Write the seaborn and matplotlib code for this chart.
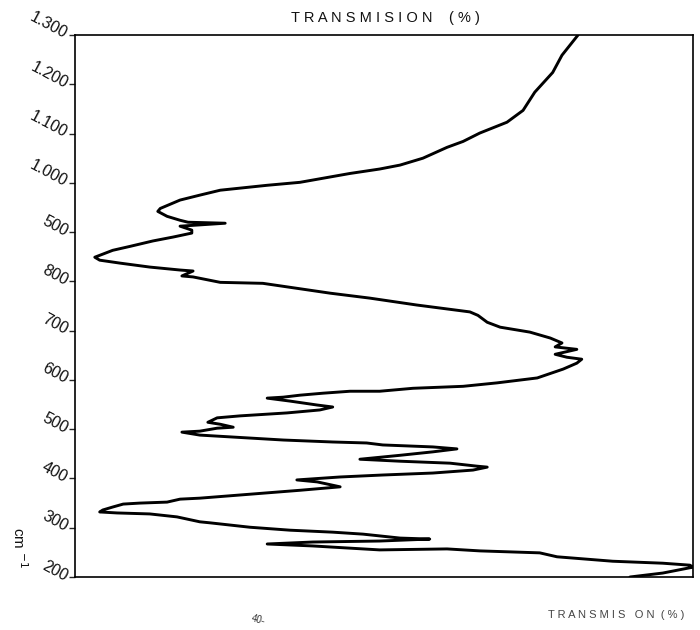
import matplotlib
matplotlib.use("Agg")
import matplotlib.pyplot as plt
import seaborn as sns
import pandas as pd

# Infrared transmission trace, read in pen order from 1300 down to 200 cm-1
transmission = [
    81.4, 78.8, 77.3, 74.4, 72.5, 69.9, 65.5, 62.8, 60.2, 56.3, 52.6, 49.3,
    44.5, 36.4, 31.1, 23.5, 20.2, 17.0, 13.8, 13.4, 14.9, 17.0, 18.3, 24.3,
    17.0, 18.9, 18.9, 15.9, 12.6, 8.9, 6.1, 4.0, 3.2, 4.0, 7.3, 12.1, 17.0,
    19.1, 17.3, 19.1, 23.5, 30.4, 35.9, 41.3, 47.7, 55.3, 60.2, 63.9, 65.2,
    66.7, 68.8, 73.6, 76.9, 78.8, 77.7, 81.2, 77.7, 79.6, 82.0, 81.2, 79.0,
    74.8, 68.3, 62.8, 54.7, 49.3, 44.5, 40.1, 36.4, 33.7, 31.1, 34.8, 39.2,
    41.7, 39.6, 34.3, 26.7, 23.0, 21.5, 23.5, 25.6, 23.0, 20.2, 17.3, 20.2,
    25.6, 33.7, 41.7, 47.2, 49.8, 57.9, 61.8, 57.9, 52.6, 46.1, 52.6, 60.7,
    65.0, 66.7, 64.4, 57.9, 49.8, 42.9, 35.9, 39.2, 42.9, 36.4, 28.3, 20.2,
    17.0, 14.9, 10.5, 7.8, 6.1, 4.5, 4.0, 6.8, 12.1, 16.5, 20.2, 21.8, 28.3,
    34.8, 41.7, 46.6, 52.6, 57.4, 49.3, 38.5, 31.1, 38.5, 49.3, 60.2, 65.5,
    75.2, 78.0, 87.0, 95.1, 99.5, 100.0, 95.1, 89.8,
]
wavenumber = [
    1300, 1259, 1224, 1184, 1147, 1123, 1101, 1084, 1072, 1050, 1036, 1028,
    1019, 1001, 995, 985, 975, 965, 948, 942, 932, 924, 920, 918,
    912, 904, 898, 890, 882, 871, 863, 853, 849, 843, 837, 829, 823,
    821, 811, 809, 798, 796, 786, 776, 766, 752, 744, 738, 731,
    717, 707, 697, 685, 675, 667, 662, 652, 646, 642, 634, 622,
    604, 594, 587, 583, 577, 577, 573, 569, 565, 563, 557, 549,
    545, 539, 533, 527, 523, 514, 510, 504, 502, 496, 494, 488,
    484, 478, 474, 472, 468, 464, 460, 454, 447, 439, 435, 431,
    425, 423, 417, 411, 407, 403, 397, 393, 383, 376, 368, 360,
    358, 352, 350, 348, 342, 336, 332, 330, 328, 322, 312, 310, 301,
    295, 291, 287, 279, 277, 273, 271, 267, 263, 255, 257, 253,
    249, 241, 232, 228, 224, 220, 208, 200,
]

tick_values = [1300, 1200, 1100, 1000, 900, 800, 700, 600, 500, 400, 300, 200]
tick_labels = ["1.300", "1.200", "1.100", "1.000", "500", "800", "700",
               "600", "500", "400", "300", "200"]

df = pd.DataFrame({"T": transmission, "cm": wavenumber, "step": range(len(wavenumber))})

sns.set_style("ticks")
plt.rcParams["font.family"] = ["Liberation Sans", "DejaVu Sans"]

fig = plt.figure(figsize=(7.0, 6.3), dpi=100)
ax = fig.add_axes([75 / 700, 53 / 630, 618 / 700, 542 / 630])

sns.lineplot(data=df, x="T", y="cm", sort=False, estimator=None,
             color="black", linewidth=2.1, ax=ax)

ax.set_xlim(0, 100)
ax.set_ylim(200, 1300)
ax.set_xticks([])
ax.set_yticks(tick_values)
ax.set_yticklabels(tick_labels, rotation=-28, rotation_mode="anchor",
                   ha="right", va="center", fontsize=11.5, color="#111111")
ax.tick_params(axis="y", direction="out", length=4, width=1, pad=2)
ax.set_xlabel("")
ax.set_ylabel("")
for side in ["left", "bottom", "top", "right"]:
    ax.spines[side].set_visible(True)
    ax.spines[side].set_linewidth(1.2)
    ax.spines[side].set_color("black")

fig.text(385 / 700, 1 - 18 / 630, "T R A N S M I S I O N    ( % )",
         ha="center", va="center", fontsize=10.5, color="#111111")
fig.text(616 / 700, 1 - 615 / 630, "T R A N S M I S   O N  ( % )",
         ha="center", va="center", fontsize=8, color="#444444")
fig.text(19 / 700, 1 - 548 / 630, "cm $^{-1}$", rotation=-90,
         ha="center", va="center", fontsize=11, color="#111111")
fig.text(258 / 700, 1 - 620 / 630, "40-", rotation=-15,
         ha="center", va="center", fontsize=7, color="#333333")

fig.savefig("out.png", dpi=100, facecolor="white")
